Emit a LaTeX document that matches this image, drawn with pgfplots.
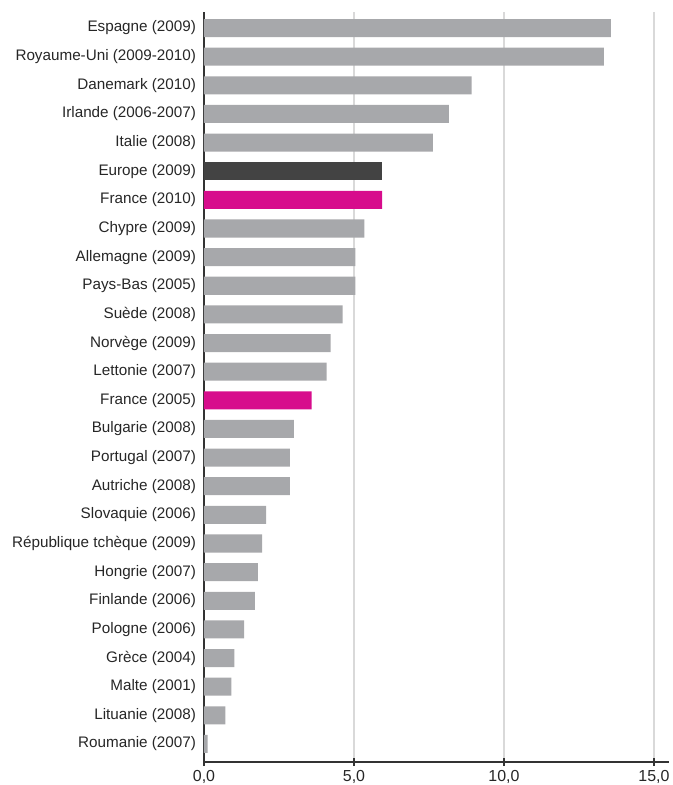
\documentclass[border=0pt]{standalone}
\usepackage{fontspec}
\setmainfont{Liberation Sans}
\usepackage{pgfplots}
\pgfplotsset{compat=1.18}
\definecolor{bargray}{HTML}{A7A8AB}
\definecolor{eurogray}{HTML}{434343}
\definecolor{mag}{HTML}{D70C8C}
\definecolor{gridgray}{HTML}{D9D9D9}
\definecolor{axisdark}{HTML}{333333}
\begin{document}
\begin{tikzpicture}
\begin{axis}[
  at={(0,0)}, anchor=south west,
  scale only axis, width=465bp, height=750bp,
  xmin=0, xmax=15.5, ymin=-0.63, ymax=25.56,
  axis lines*=left,
  axis line style={axisdark, line width=1.3bp},
  xbar, bar width=0.63, bar shift=0pt,
  xtick={0,5,10,15},
  xmajorgrids, grid style={gridgray, line width=1.4bp},
  major x tick style={axisdark, line width=1.3bp},
  major tick length=8bp, tick align=center,
  ytick={0,...,25},
  yticklabels={Roumanie (2007),Lituanie (2008),Malte (2001),Grèce (2004),Pologne (2006),Finlande (2006),Hongrie (2007),République tchèque (2009),Slovaquie (2006),Autriche (2008),Portugal (2007),Bulgarie (2008),France (2005),Lettonie (2007),Norvège (2009),Suède (2008),Pays-Bas (2005),Allemagne (2009),Chypre (2009),France (2010),Europe (2009),Italie (2008),Irlande (2006-2007),Danemark (2010),Royaume-Uni (2009-2010),Espagne (2009)},
  major y tick style={draw=none},
  yticklabel style={font=\fontsize{15.3}{17}\selectfont, color=black!85, xshift=-0.5bp},
  xticklabel style={font=\fontsize{16}{18}\selectfont, color=black!85, yshift=-1bp},
  /pgf/number format/.cd, fixed, fixed zerofill, precision=1, use comma, assume math mode=true,
]
\addplot[fill=bargray, draw=none] coordinates {
  (13.56,25) (13.33,24) (8.92,23) (8.16,22) (7.63,21)
  (5.35,18) (5.05,17) (5.05,16) (4.62,15) (4.22,14) (4.09,13)
  (3.00,11) (2.86,10) (2.86,9) (2.07,8) (1.94,7) (1.80,6) (1.70,5)
  (1.34,4) (1.01,3) (0.91,2) (0.71,1) (0.12,0)
};
\addplot[fill=eurogray, draw=none] coordinates {(5.94,20)};
\addplot[fill=mag, draw=none] coordinates {(5.94,19) (3.59,12)};
\draw[axisdark, line width=1.3bp] (rel axis cs:0,0) ++(-7bp,0) -- (rel axis cs:0,0);
\end{axis}
\pgfresetboundingbox
\path (-204bp,-23bp) rectangle (469bp,762bp);
\end{tikzpicture}
\end{document}
